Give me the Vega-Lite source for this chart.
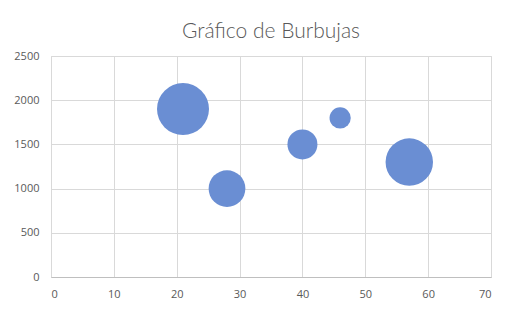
{
  "$schema": "https://vega.github.io/schema/vega-lite/v6.json",
  "width": 440,
  "height": 221,
  "autosize": {"type": "none"},
  "padding": {"left": 51, "top": 56, "right": 30, "bottom": 41},
  "background": "white",
  "title": {
    "text": "Gráfico de Burbujas",
    "font": "Lato",
    "fontSize": 21,
    "fontWeight": 300,
    "color": "#595959",
    "anchor": "middle",
    "frame": "group",
    "baseline": "alphabetic",
    "offset": 21,
    "dy": 30
  },
  "data": {
    "values": [
      {"x": 21, "y": 1900, "size": 60},
      {"x": 28, "y": 1000, "size": 30},
      {"x": 40, "y": 1500, "size": 20},
      {"x": 46, "y": 1800, "size": 10},
      {"x": 57, "y": 1300, "size": 50}
    ]
  },
  "mark": {"type": "circle", "color": "#6a8ed3", "opacity": 1},
  "encoding": {
    "x": {
      "field": "x",
      "type": "quantitative",
      "scale": {"domain": [0, 70], "nice": false},
      "axis": {
        "title": null,
        "values": [0, 10, 20, 30, 40, 50, 60, 70],
        "format": "d",
        "ticks": false,
        "domainColor": "#bfbfbf",
        "gridColor": "#d9d9d9",
        "labelPadding": 11,
        "labelFont": "Open Sans",
        "labelFontSize": 11,
        "labelColor": "#595959"
      }
    },
    "y": {
      "field": "y",
      "type": "quantitative",
      "scale": {"domain": [0, 2500], "nice": false},
      "axis": {
        "title": null,
        "values": [0, 500, 1000, 1500, 2000, 2500],
        "format": "d",
        "ticks": false,
        "domain": false,
        "gridColor": "#d9d9d9",
        "labelPadding": 12,
        "labelFont": "Open Sans",
        "labelFontSize": 11,
        "labelColor": "#595959"
      }
    },
    "size": {
      "field": "size",
      "type": "quantitative",
      "scale": {"domain": [0, 60], "range": [0, 2700], "zero": true},
      "legend": null
    }
  },
  "config": {"view": {"stroke": "#d9d9d9"}}
}
